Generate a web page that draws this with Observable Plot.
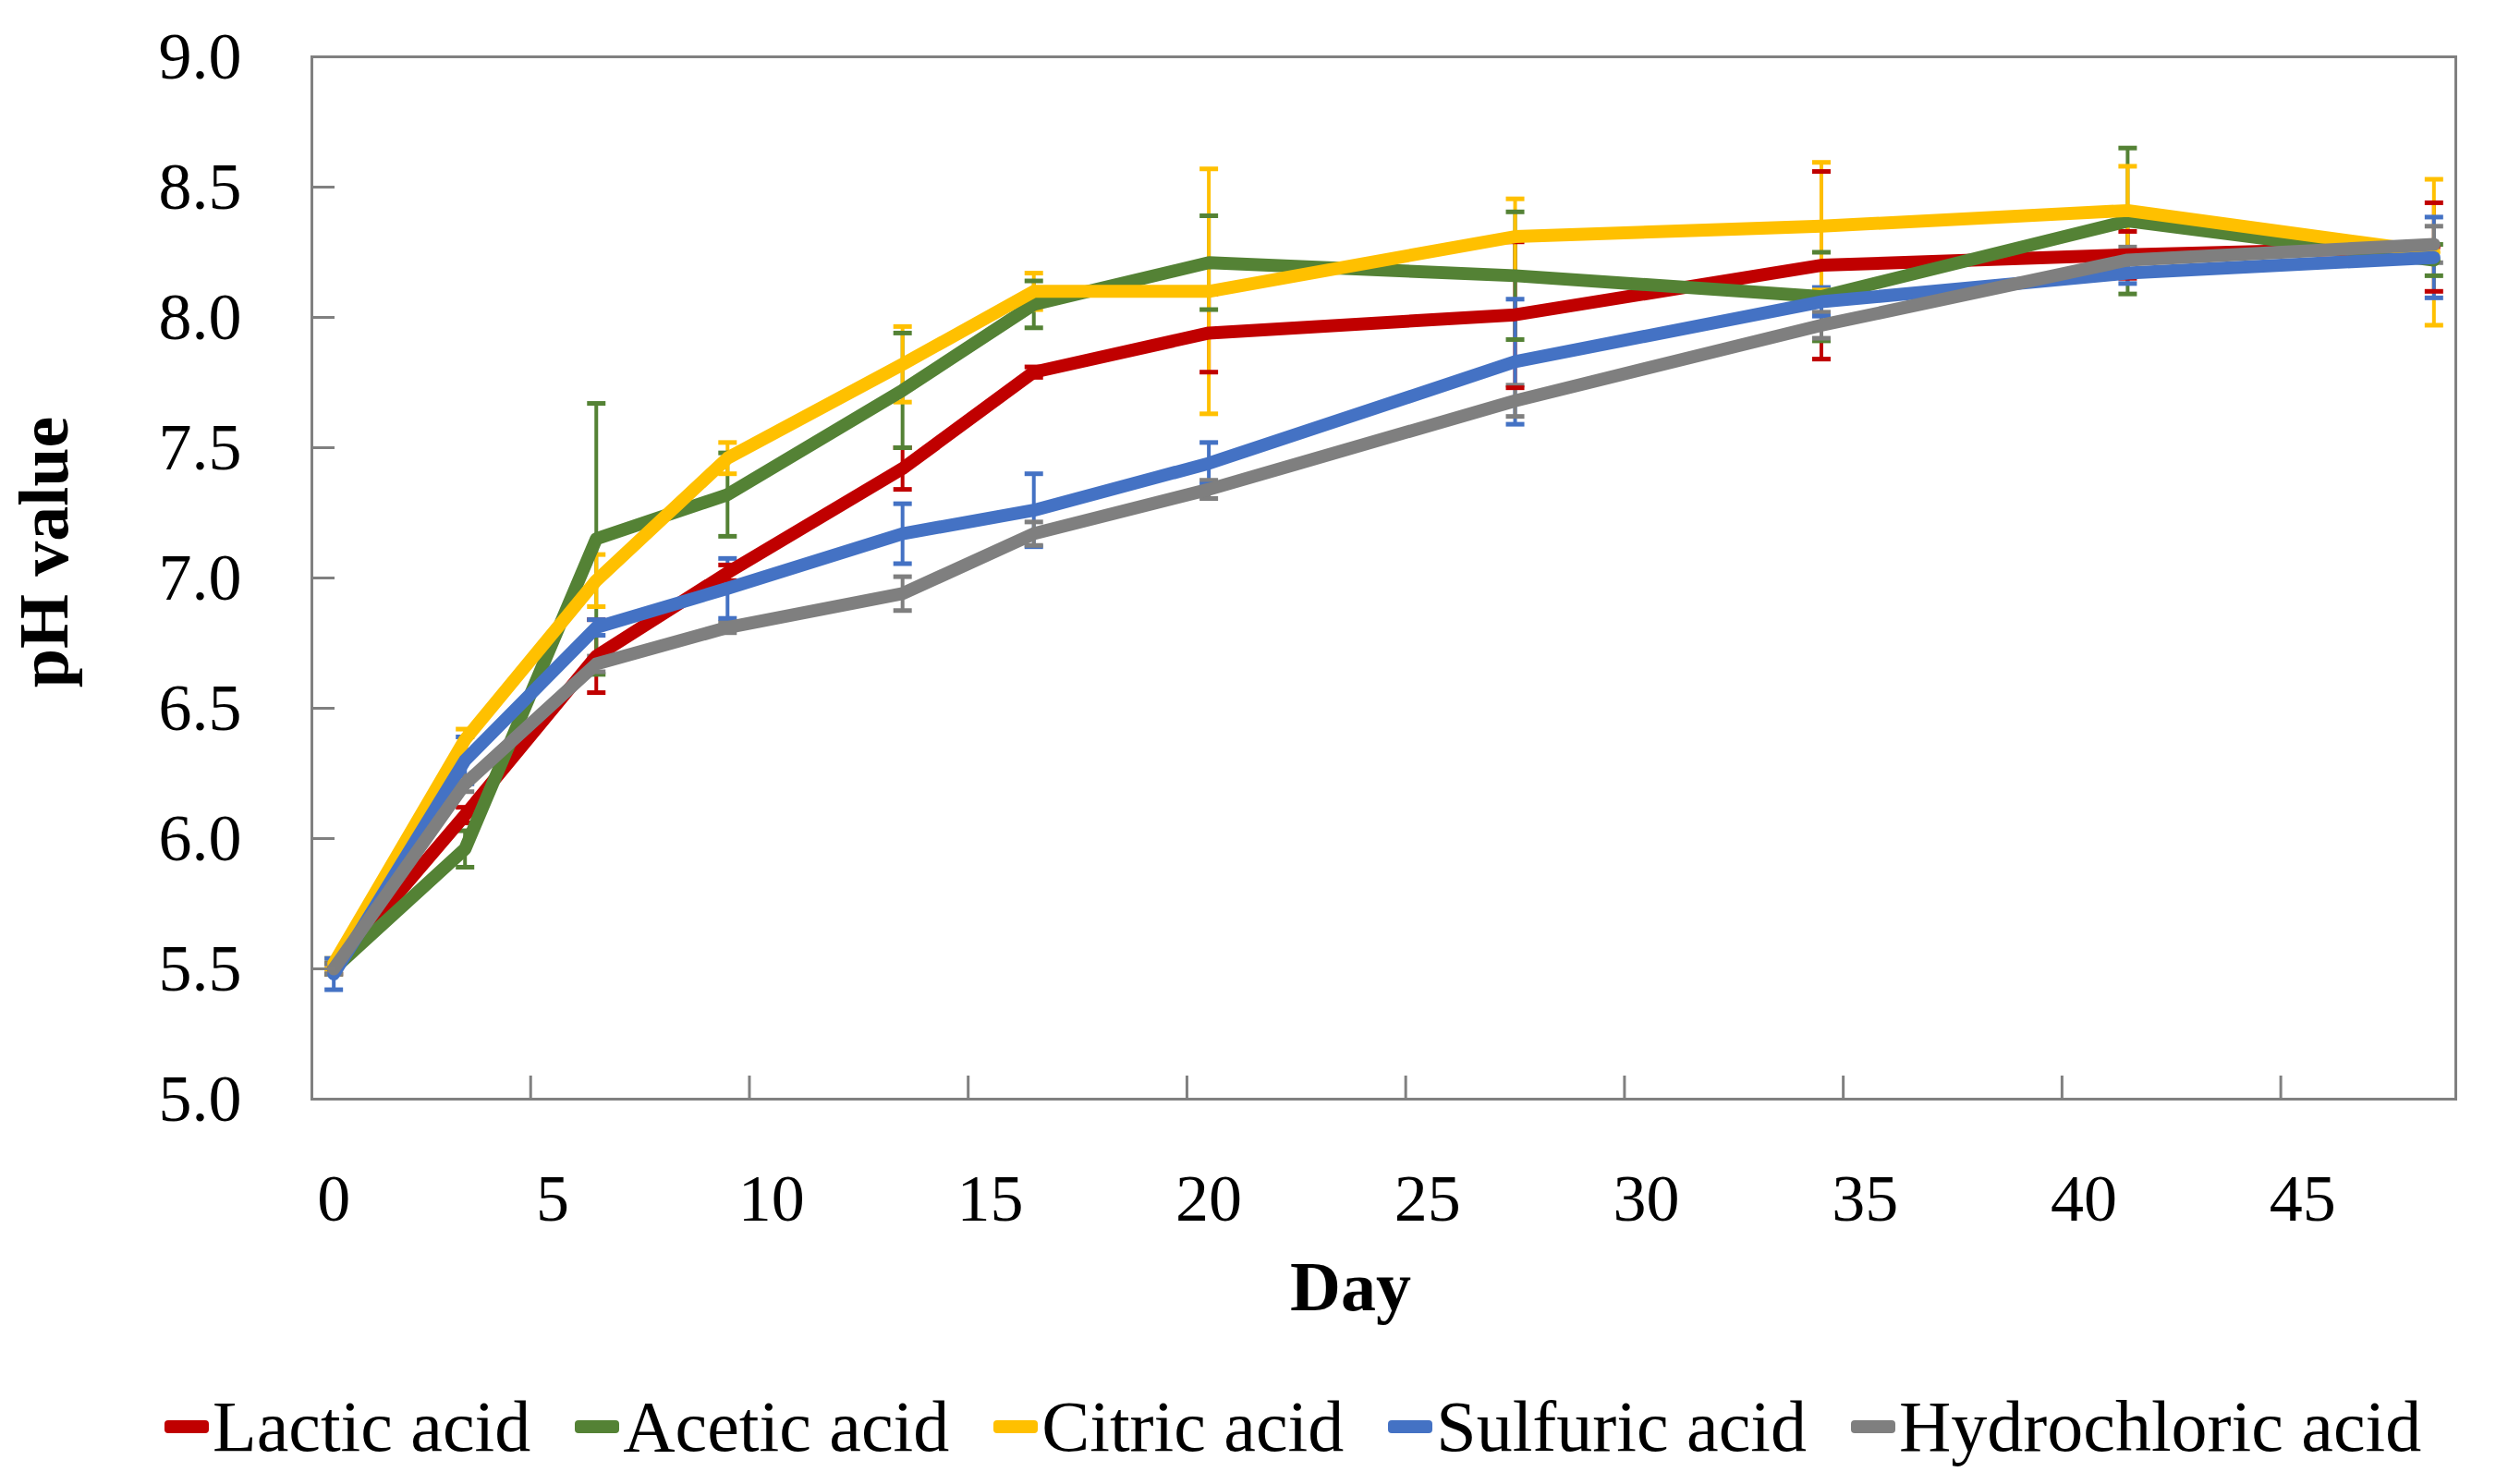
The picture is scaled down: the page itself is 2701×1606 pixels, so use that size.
<!DOCTYPE html>
<html>
<head>
<meta charset="utf-8">
<script src="https://cdn.jsdelivr.net/npm/d3@7"></script>
<script src="https://cdn.jsdelivr.net/npm/@observablehq/plot@0.6"></script>
<style>
  html, body { margin: 0; padding: 0; background: #fff; }
  #legend {
    display: flex; align-items: center; height: 100px; margin-top: 14px;
    padding-left: 178px; font-family: "Liberation Serif", serif; font-size: 78px; color: #000;
    line-height: 100px; white-space: nowrap;
  }
  .item { display: flex; align-items: center; margin-right: 48px; }
  .sw { width: 48px; height: 14px; border-radius: 4px; margin-right: 4px; }
</style>
</head>
<body>
<div id="chart"></div>
<div id="legend"></div>
<script>
// ---- data ----
const days = [0, 3, 6, 9, 13, 16, 20, 27, 34, 41, 48];
const seriesNames = ["Lactic acid", "Acetic acid", "Citric acid", "Sulfuric acid", "Hydrochloric acid"];
const seriesColors = ["#C00000", "#548235", "#FFC000", "#4472C4", "#7F7F7F"];

const lactic      = [5.50, 6.09, 6.70, 7.02, 7.42, 7.79, 7.94, 8.01, 8.20, 8.24, 8.27];
const lacticErr   = [0.02, 0.03, 0.14, 0.03, 0.08, 0.02, 0.15, 0.28, 0.36, 0.09, 0.17];
const acetic      = [5.50, 5.96, 7.15, 7.32, 7.72, 8.05, 8.21, 8.16, 8.08, 8.37, 8.22];
const aceticErr   = [0.02, 0.07, 0.52, 0.16, 0.22, 0.09, 0.18, 0.245, 0.17, 0.28, 0.06];
const citric      = [5.52, 6.38, 6.99, 7.46, 7.82, 8.10, 8.10, 8.31, 8.35, 8.41, 8.25];
const citricErr   = [0.02, 0.04, 0.10, 0.06, 0.145, 0.07, 0.47, 0.145, 0.245, 0.17, 0.28];
const sulfuric    = [5.48, 6.30, 6.81, 6.96, 7.17, 7.26, 7.44, 7.83, 8.06, 8.17, 8.23];
const sulfuricErr = [0.06, 0.09, 0.03, 0.115, 0.115, 0.14, 0.08, 0.24, 0.055, 0.04, 0.155];
const hydro       = [5.50, 6.21, 6.67, 6.81, 6.94, 7.17, 7.34, 7.68, 7.97, 8.22, 8.28];
const hydroErr    = [0.02, 0.03, 0.03, 0.02, 0.065, 0.045, 0.035, 0.06, 0.05, 0.05, 0.07];

const xTicks = [0, 5, 10, 15, 20, 25, 30, 35, 40, 45];
const yTicks = [5.0, 5.5, 6.0, 6.5, 7.0, 7.5, 8.0, 8.5, 9.0];

// ---- table built from the arrays ----
const values = [lactic, acetic, citric, sulfuric, hydro];
const errors = [lacticErr, aceticErr, citricErr, sulfuricErr, hydroErr];
const rows = [];
seriesNames.forEach((name, i) => days.forEach((d, j) => rows.push({series: name, day: d, ph: values[i][j], err: errors[i][j]})));

// horizontal cap symbol for error bars
const cap = {draw(ctx, size) { const w = Math.sqrt(size / Math.PI); ctx.moveTo(-w, 0); ctx.lineTo(w, 0); }};

const W = 2701, H = 1480, mL = 337, mR = 44, mT = 61, mB = 291;
const plotW = W - mL - mR, plotH = H - mT - mB;
const axisColor = "#808080";
const font = "Liberation Serif";

const chart = Plot.plot({
  width: W, height: H,
  marginLeft: mL, marginRight: mR, marginTop: mT, marginBottom: mB,
  style: {fontFamily: font, background: "white", color: "black"},
  // Excel "between tick marks": each day occupies one unit, point centred in it
  x: {domain: [-0.5, 48.5], label: null},
  y: {domain: [5, 9], label: null},
  color: {domain: seriesNames, range: seriesColors},
  marks: [
    Plot.ruleX(rows, {x: "day", y1: d => d.ph - d.err, y2: d => d.ph + d.err, stroke: "series", strokeWidth: 4}),
    Plot.dot(rows, {x: "day", y: d => d.ph + d.err, symbol: cap, r: 10, stroke: "series", fill: "none", strokeWidth: 5}),
    Plot.dot(rows, {x: "day", y: d => d.ph - d.err, symbol: cap, r: 10, stroke: "series", fill: "none", strokeWidth: 5}),
    Plot.line(rows, {x: "day", y: "ph", z: "series", stroke: "series", strokeWidth: 14, strokeLinejoin: "round", strokeLinecap: "round"}),
    Plot.frame({stroke: axisColor, strokeWidth: 3}),
    Plot.tickX(xTicks.map(t => t - 0.5), {x: d => d, insetTop: plotH - 25, stroke: axisColor, strokeWidth: 3}),
    Plot.tickY(yTicks, {y: d => d, insetRight: plotW - 25, stroke: axisColor, strokeWidth: 3}),
    Plot.axisX(xTicks, {tickSize: 0, tickPadding: 80, fontSize: 72, label: null, fill: "black"}),
    Plot.axisY(yTicks, {tickSize: 0, tickPadding: 76, fontSize: 72, label: null, fill: "black", tickFormat: d3.format(".1f")}),
    Plot.text(["pH value"], {text: d => d, frameAnchor: "left", rotate: -90, dx: -265, dy: -28,
      lineAnchor: "bottom", textAnchor: "middle", fontSize: 76, fontWeight: "bold", fill: "black"}),
    Plot.text(["Day"], {text: d => d, frameAnchor: "bottom", dx: -36, dy: 228,
      lineAnchor: "bottom", textAnchor: "middle", fontSize: 76, fontWeight: "bold", fill: "black"})
  ]
});
document.getElementById("chart").appendChild(chart);

// ---- legend below the chart ----
const legend = document.getElementById("legend");
seriesNames.forEach((name, i) => {
  const item = document.createElement("div");
  item.className = "item";
  const sw = document.createElement("span");
  sw.className = "sw";
  sw.style.background = seriesColors[i];
  const label = document.createElement("span");
  label.textContent = name;
  item.appendChild(sw);
  item.appendChild(label);
  legend.appendChild(item);
});
</script>
</body>
</html>
